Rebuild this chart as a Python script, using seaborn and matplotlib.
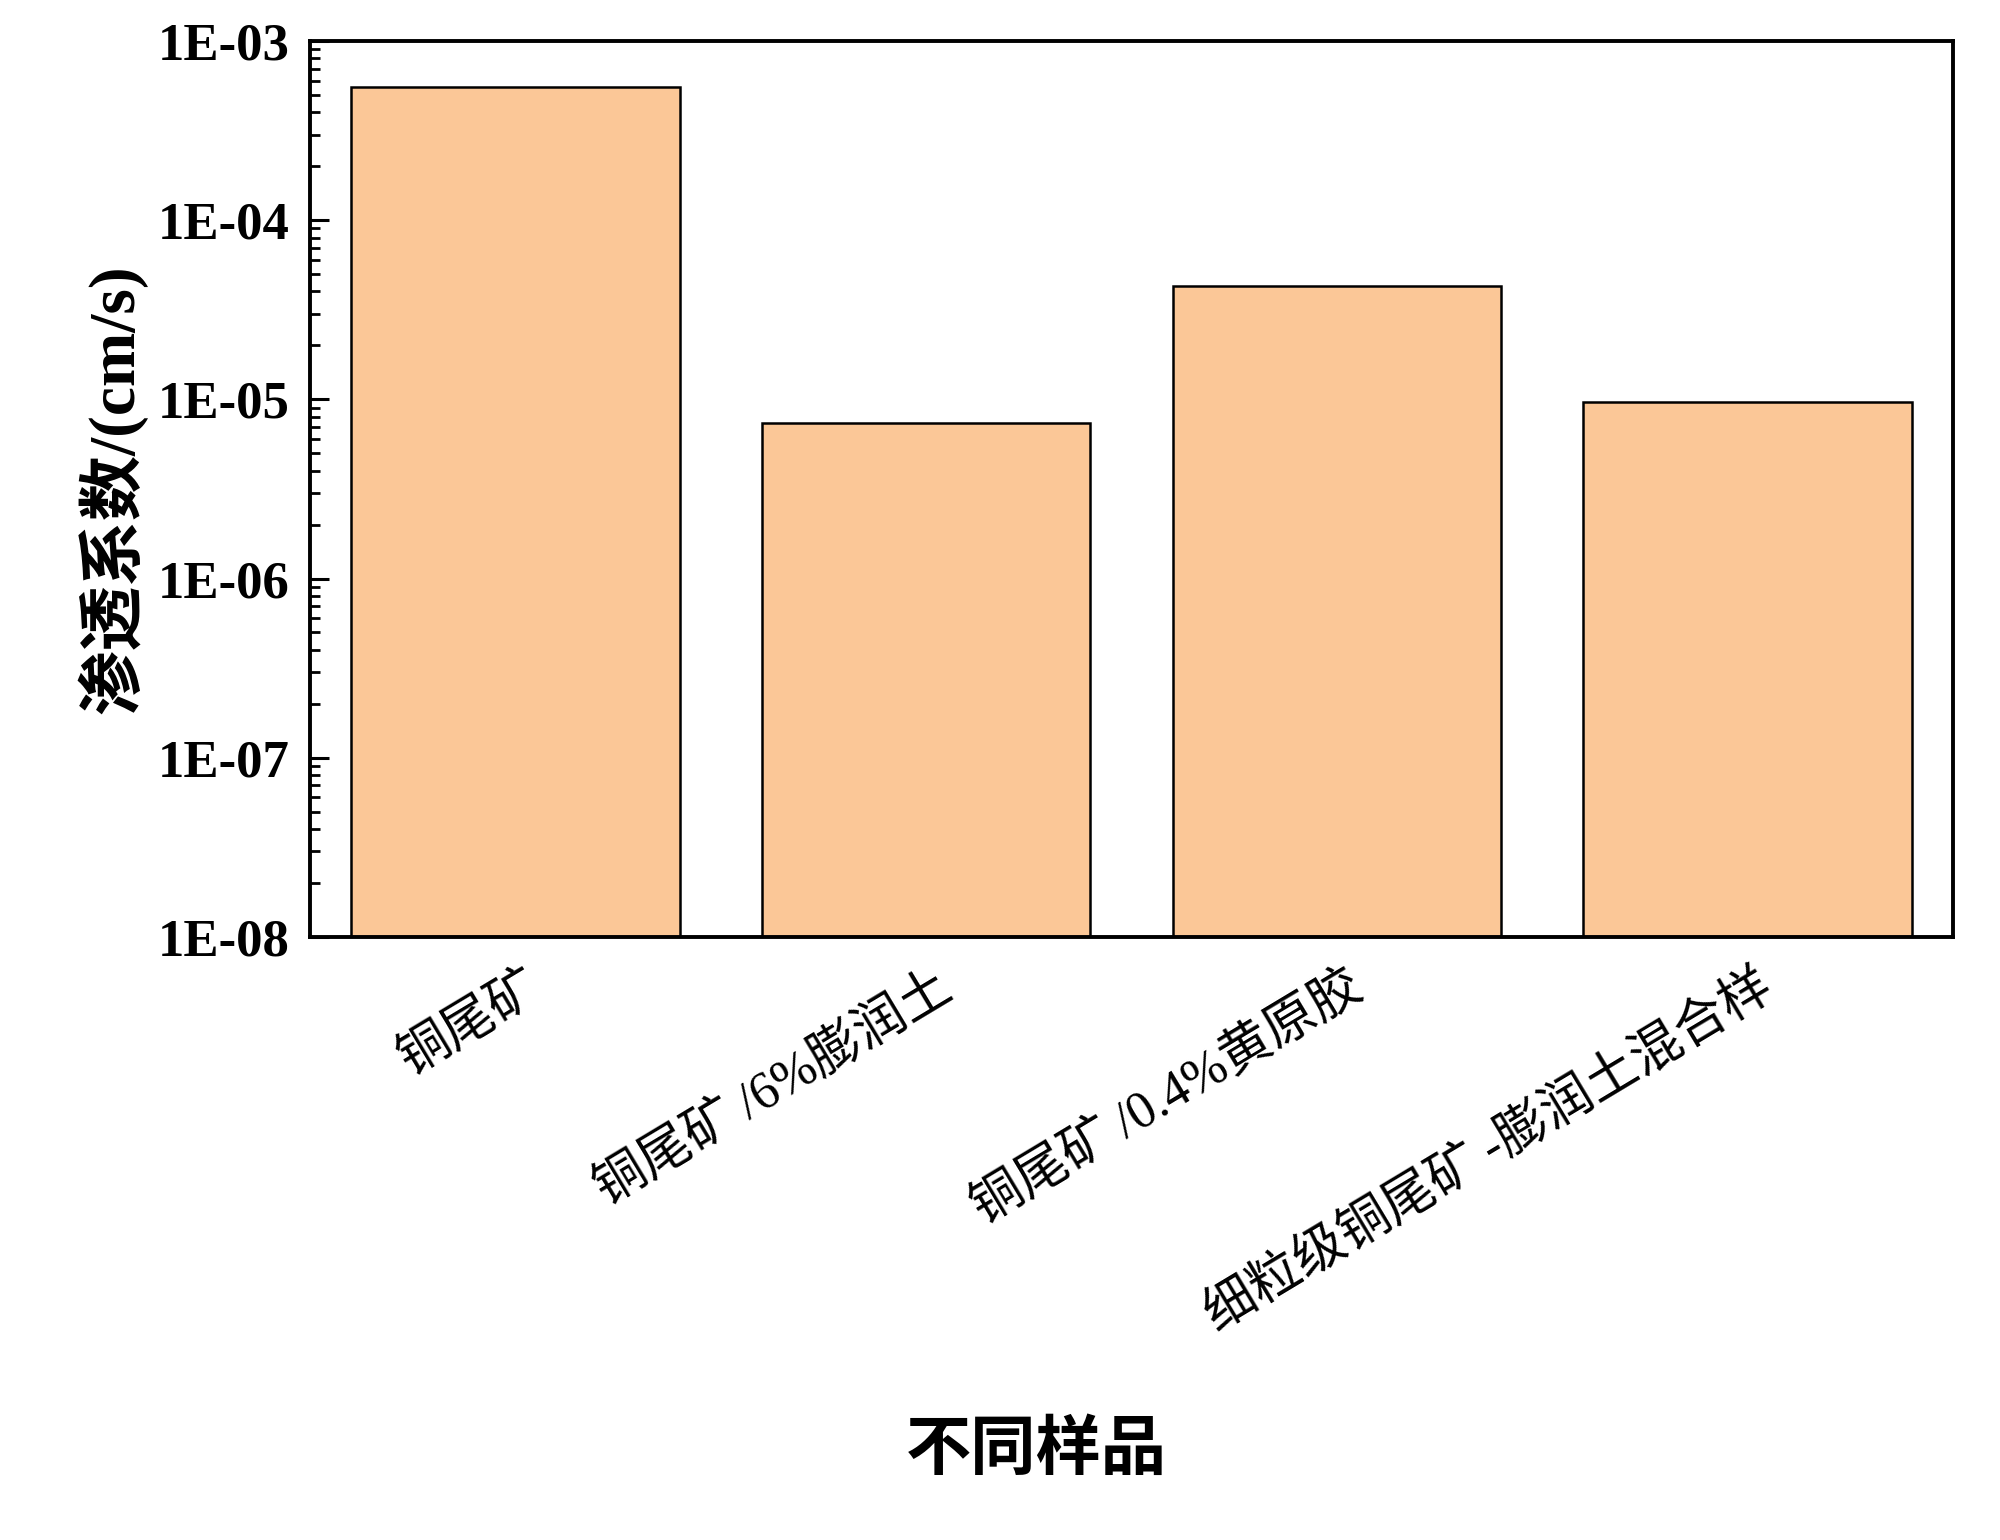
import numpy as np
import pandas as pd
import matplotlib
matplotlib.use("Agg")
import matplotlib.pyplot as plt
import matplotlib.ticker as mticker
import matplotlib.transforms as mtransforms
import seaborn as sns

# 样品名称与渗透系数 (cm/s)
samples = ["铜尾矿", "铜尾矿\u2009/6%膨润土", "铜尾矿\u2009/0.4%黄原胶", "细粒级铜尾矿\u2009-膨润土混合样"]
k_values = [5.55e-4, 7.35e-6, 4.3e-5, 9.7e-6]
y_ticks = [1e-8, 1e-7, 1e-6, 1e-5, 1e-4, 1e-3]

data = pd.DataFrame({"sample": samples, "k": k_values})

sns.set_style("white")
fonts = ["Liberation Serif", "Noto Sans CJK SC"]
plt.rcParams["font.family"] = fonts
plt.rcParams["axes.unicode_minus"] = False
plt.rcParams["text.color"] = "black"
plt.rcParams["axes.labelcolor"] = "black"
plt.rcParams["xtick.color"] = "black"
plt.rcParams["ytick.color"] = "black"

fig = plt.figure(figsize=(20, 15.4), dpi=100)
ax = fig.add_axes([0.155, 0.3916, 0.8215, 0.5818])

sns.barplot(x="sample", y="k", data=data, color="#FBC797", saturation=1,
            edgecolor="black", linewidth=1.8, width=0.8, ax=ax)

ax.set_yscale("log")
ax.set_ylim(1e-8, 1e-3)
ax.set_xlim(-0.5, 3.5)
ax.set_yticks(y_ticks)
ax.yaxis.set_major_formatter(mticker.FuncFormatter(lambda v, p: "1E-%02d" % round(-np.log10(v))))
ax.yaxis.set_minor_locator(mticker.LogLocator(base=10, subs=np.arange(2, 10), numticks=20))
ax.yaxis.set_minor_formatter(mticker.NullFormatter())

for s in ax.spines.values():
    s.set_linewidth(2.8)
    s.set_color("black")

ax.tick_params(axis="y", which="major", direction="in", length=14, width=2.2,
               left=True, right=False, pad=15, colors="black")
ax.tick_params(axis="y", which="minor", direction="in", length=7, width=2.0,
               left=True, right=False, colors="black")
ax.tick_params(axis="x", which="major", direction="in", length=14, width=2.2,
               bottom=True, top=False, pad=8, colors="black")

for lab in ax.get_yticklabels():
    lab.set_fontfamily(fonts)
    lab.set_fontweight("bold")
    lab.set_fontsize(38)

ax.set_xticks(range(len(samples)))
ax.set_xticklabels(samples, rotation=31, ha="right", va="center", rotation_mode="anchor",
                   fontsize=37.5, family=fonts)
shift = mtransforms.ScaledTranslation(0.22, -0.36, fig.dpi_scale_trans)
for lab in ax.get_xticklabels():
    lab.set_transform(lab.get_transform() + shift)

ax.set_xlabel("不同样品", fontsize=47, fontweight="bold", family=fonts)
ax.xaxis.set_label_coords(0.442, -0.575)
ax.xaxis.label.set_va("center")
ax.set_ylabel("渗透系数/(cm/s)", fontsize=47, fontweight="bold", family=fonts)
ax.yaxis.set_label_coords(-0.099, 0.5)

fig.savefig("out.png", dpi=100, facecolor="white")
